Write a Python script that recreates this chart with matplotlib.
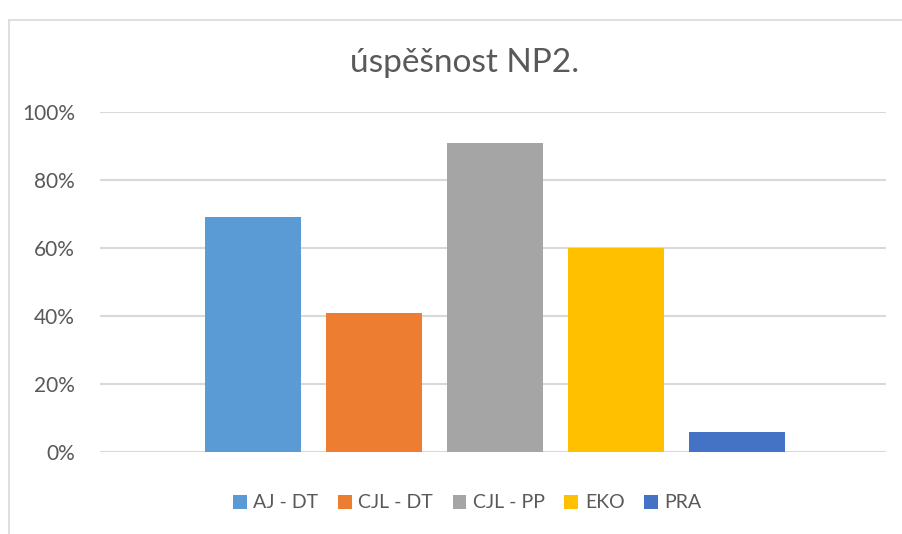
import matplotlib
matplotlib.use("Agg")
import matplotlib.pyplot as plt
from matplotlib.lines import Line2D
from matplotlib.ticker import PercentFormatter

plt.rcParams['font.family'] = ['Lato', 'DejaVu Sans']

series = ["AJ - DT", "CJL - DT", "CJL - PP", "EKO", "PRA"]
values = [0.69, 0.41, 0.91, 0.60, 0.06]
colors = ["#5B9BD5", "#ED7D31", "#A5A5A5", "#FFC000", "#4472C4"]
yticks = [0, 0.2, 0.4, 0.6, 0.8, 1.0]

text_col = "#595959"
grid_col = "#D9D9D9"

fig = plt.figure(figsize=(9.02, 5.34), dpi=100)
ax = fig.add_axes([100/902, 1 - 452/534, 786/902, 340/534])

bar_w = 96/786
step = 121/786
center = 0.5 + 2/786
for i, (name, v, c) in enumerate(zip(series, values, colors)):
    ax.bar(center + (i - 2) * step, v, width=bar_w, color=c, label=name, zorder=3)

ax.set_xlim(0, 1)
ax.set_ylim(0, 1)
ax.set_yticks(yticks)
ax.yaxis.set_major_formatter(PercentFormatter(1.0, decimals=0))
ax.set_xticks([])
ax.grid(axis='y', color=grid_col, linewidth=1.5, zorder=0)
for s in ax.spines.values():
    s.set_visible(False)
ax.tick_params(axis='y', length=0, pad=18, labelsize=15, labelcolor=text_col)

fig.text(0.515, 1 - 63/534, "úspěšnost NP2.", ha='center', va='center',
         fontsize=24, color=text_col)

fig.legend(ncol=5, loc='center', bbox_to_anchor=(0.518, 1 - 503/534),
           frameon=False, handlelength=0.7, handleheight=0.7,
           handletextpad=0.35, columnspacing=1.0, fontsize=14,
           labelcolor=text_col)

# chart area border
fig.add_artist(Line2D([9/902, 9/902], [0, 1 - 20/534], color=grid_col,
                      linewidth=1.2, transform=fig.transFigure))
fig.add_artist(Line2D([9/902, 1], [1 - 20/534, 1 - 20/534], color=grid_col,
                      linewidth=1.2, transform=fig.transFigure))

fig.savefig("out.png", dpi=100)
